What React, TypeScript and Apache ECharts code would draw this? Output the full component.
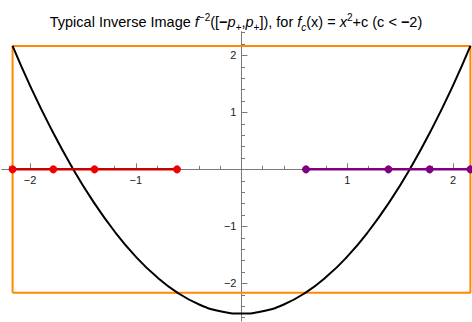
import React, { useEffect, useRef } from "react";
import * as echarts from "echarts";

// p+ (the repelling fixed point) for c ≈ -2.53
const pPlus = 2.165;
// rectangle [-p+, p+] x [-p+, p+]
const rectX = [-pPlus, pPlus, pPlus, -pPlus, -pPlus];
const rectY = [-pPlus, -pPlus, pPlus, pPlus, -pPlus];

const curveX = [-2.165, -2.0, -1.8, -1.6, -1.4, -1.2, -1.0, -0.8, -0.6, -0.4, -0.2, 0, 0.2, 0.4, 0.6, 0.8, 1.0, 1.2, 1.4, 1.6, 1.8, 2.0, 2.165];
const curveY = [2.165, 1.47, 0.71, 0.03, -0.57, -1.09, -1.53, -1.89, -2.17, -2.37, -2.49, -2.53, -2.49, -2.37, -2.17, -1.89, -1.53, -1.09, -0.57, 0.03, 0.71, 1.47, 2.165];

// interval endpoints of f^{-2}([-p+, p+])
const redPts = [-2.165, -1.78, -1.39, -0.61];
const purplePts = [0.61, 1.39, 1.78, 2.165];

// ticks
const xMajor = [-2, -1, 1, 2];
const yMajor = [-2, -1, 1, 2];
const xMinor = [-2.2, -1.8, -1.6, -1.4, -1.2, -0.8, -0.6, -0.4, -0.2, 0.2, 0.4, 0.6, 0.8, 1.2, 1.4, 1.6, 1.8, 2.0];
const yMinor = [-2.6, -2.4, -2.2, -1.8, -1.6, -1.4, -1.2, -0.8, -0.6, -0.4, -0.2, 0.2, 0.4, 0.6, 0.8, 1.2, 1.4, 1.6, 1.8, 2.2, 2.4];

const X_MIN = -2.265;
const X_MAX = 2.18;
const Y_MIN = -2.66;
const Y_MAX = 2.41;

const W = 472;
const H = 322;
const G_LEFT = 2;
const G_RIGHT = 0;
const G_TOP = 32;
const G_BOTTOM = 1;

const AXIS_COLOR = "#7a7a7a";
const FONT = "'Liberation Sans', Arial, sans-serif";

const fmt = (v: number) => (v < 0 ? "\u2212" + Math.abs(v) : String(v));

export default function App() {
  const ref = useRef<HTMLDivElement>(null);
  useEffect(() => {
    if (!ref.current) return;
    const chart = echarts.init(ref.current, undefined, { renderer: "svg" });

    // shift the axes from the grid edges to the zero lines
    const gw = W - G_LEFT - G_RIGHT;
    const gh = H - G_TOP - G_BOTTOM;
    const yAxisOffset = -((0 - X_MIN) / (X_MAX - X_MIN)) * gw;
    const xAxisOffset = -((0 - Y_MIN) / (Y_MAX - Y_MIN)) * gh;

    const baseAxis = (
      min: number,
      max: number,
      pos: string,
      offset: number,
      ticks: number[],
      len: number,
      labels: number[] | null
    ) => ({
      type: "value",
      min,
      max,
      position: pos,
      offset,
      axisLine: { show: true, onZero: false, lineStyle: { color: AXIS_COLOR, width: 1 } },
      axisTick: { show: true, inside: true, length: len, customValues: ticks, lineStyle: { color: AXIS_COLOR, width: 1 } },
      axisLabel: labels
        ? {
            show: true,
            customValues: labels,
            formatter: fmt,
            color: "#222",
            fontSize: 11,
            fontFamily: FONT,
            margin: 5,
          }
        : { show: false },
      splitLine: { show: false },
      minorTick: { show: false },
    });

    const pair = (xs: number[], ys: number[]) => xs.map((x, i) => [x, ys[i]]);

    chart.setOption({
      animation: false,
      backgroundColor: "#fff",
      title: {
        text:
          "Typical Inverse Image {i|f}{sup|\u22122}([{b|\u2212}{i|p}{sub|+},{i|p}{sub|+}]), for {i|f}{subi|c}(x) = {i|x}{sup|2}+c (c < {b|\u2212}2)",
        left: "center",
        top: 12,
        padding: 0,
        textStyle: {
          fontSize: 14.5,
          fontWeight: "normal",
          fontFamily: FONT,
          color: "#000",
          lineHeight: 20,
          rich: {
            i: { fontSize: 14.5, fontStyle: "italic", fontFamily: FONT, color: "#000", lineHeight: 20 },
            b: { fontSize: 14.5, fontWeight: "bold", fontFamily: FONT, color: "#000", lineHeight: 20 },
            sup: { fontSize: 10, fontFamily: FONT, color: "#000", lineHeight: 10, verticalAlign: "top" },
            sub: { fontSize: 10, fontFamily: FONT, color: "#000", lineHeight: 8, verticalAlign: "bottom" },
            subi: { fontSize: 10, fontStyle: "italic", fontFamily: FONT, color: "#000", lineHeight: 8, verticalAlign: "bottom" },
          },
        },
      },
      grid: { left: G_LEFT, right: G_RIGHT, top: G_TOP, bottom: G_BOTTOM, containLabel: false, outerBoundsMode: "none" },
      xAxis: [
        baseAxis(X_MIN, X_MAX, "bottom", xAxisOffset, xMajor, 6, xMajor),
        baseAxis(X_MIN, X_MAX, "bottom", xAxisOffset, xMinor, 3.5, null),
      ],
      yAxis: [
        baseAxis(Y_MIN, Y_MAX, "left", yAxisOffset, yMajor, 6, yMajor),
        baseAxis(Y_MIN, Y_MAX, "left", yAxisOffset, yMinor, 3.5, null),
      ],
      series: [
        {
          type: "line",
          data: pair(rectX, rectY),
          showSymbol: false,
          symbol: "none",
          lineStyle: { color: "#FF8A00", width: 2 },
          silent: true,
        },
        {
          type: "line",
          data: pair(curveX, curveY),
          smooth: 0.5,
          symbol: "none",
          lineStyle: { color: "#000", width: 2 },
          silent: true,
        },
        {
          type: "line",
          data: redPts.map((x) => [x, 0]),
          symbol: "circle",
          symbolSize: 8,
          showSymbol: true,
          itemStyle: { color: "#F20000" },
          lineStyle: { color: "#C80000", width: 2.5 },
          silent: true,
          clip: false,
        },
        {
          type: "line",
          data: purplePts.map((x) => [x, 0]),
          symbol: "circle",
          symbolSize: 8,
          showSymbol: true,
          itemStyle: { color: "#800080" },
          lineStyle: { color: "#800080", width: 2.5 },
          silent: true,
          clip: false,
        },
      ],
    });
    return () => chart.dispose();
  }, []);
  return (
    <div
      ref={ref}
      style={{ position: "absolute", left: 0, top: 0, width: W, height: H, background: "#fff" }}
    />
  );
}
